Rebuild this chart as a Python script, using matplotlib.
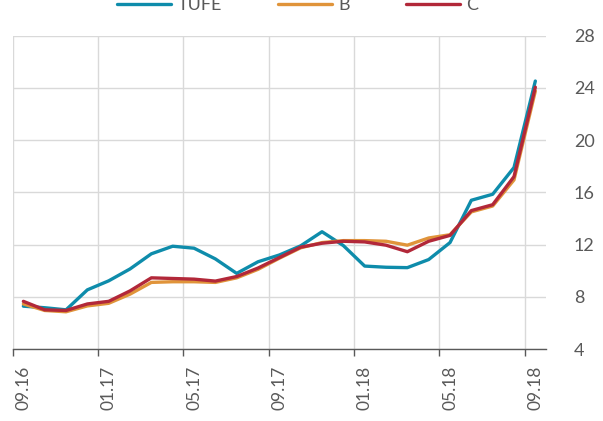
import matplotlib
matplotlib.use('Agg')
import matplotlib.pyplot as plt
import numpy as np

plt.rcParams['font.family'] = ['Lato', 'DejaVu Sans']

months = ['09.16', '10.16', '11.16', '12.16',
          '01.17', '02.17', '03.17', '04.17', '05.17', '06.17', '07.17', '08.17',
          '09.17', '10.17', '11.17', '12.17',
          '01.18', '02.18', '03.18', '04.18', '05.18', '06.18', '07.18', '08.18',
          '09.18']

tufe = [7.28, 7.16, 7.00, 8.53, 9.22, 10.13, 11.29, 11.87, 11.72, 10.90, 9.79, 10.68,
        11.20, 11.90, 12.98, 11.92, 10.35, 10.26, 10.23, 10.85, 12.15, 15.39, 15.85,
        17.90, 24.52]
b_core = [7.45, 6.95, 6.85, 7.30, 7.50, 8.20, 9.10, 9.15, 9.15, 9.10, 9.45, 10.10,
          10.95, 11.75, 12.15, 12.30, 12.30, 12.25, 11.95, 12.50, 12.75, 14.50, 14.95,
          16.95, 23.75]
c_core = [7.65, 7.00, 6.95, 7.45, 7.65, 8.45, 9.45, 9.40, 9.35, 9.20, 9.55, 10.20,
          11.00, 11.80, 12.10, 12.25, 12.20, 11.95, 11.45, 12.25, 12.70, 14.60, 15.05,
          17.20, 24.05]

grey = '#595959'
x = np.arange(len(months))

fig = plt.figure(figsize=(6.03, 4.21), dpi=100)
ax = fig.add_axes([12.7 / 603, 72 / 421, (546 - 12.7) / 603, (349 - 35.6) / 421])

ax.plot(x, tufe, color='#0E8CAB', lw=2.4, label='TUFE', solid_capstyle='round')
ax.plot(x, b_core, color='#E0943A', lw=2.4, label='B', solid_capstyle='round')
ax.plot(x, c_core, color='#B22839', lw=2.4, label='C', solid_capstyle='round')

ax.set_xlim(-0.5, len(months) - 0.5)
ax.set_ylim(4, 28)
ax.set_yticks(range(4, 29, 4))

major = x[::4]
ax.set_xticks(major)
ax.set_xticklabels([months[i] for i in major], rotation=90)
ax.set_xticks(major - 0.5, minor=True)
ax.tick_params(axis='x', which='major', length=0, pad=12, labelsize=12.5, labelcolor=grey)
ax.tick_params(axis='x', which='minor', length=5, width=1, color=grey, direction='out')

ax.yaxis.tick_right()
ax.tick_params(axis='y', length=0, pad=20, labelsize=13, labelcolor=grey)

ax.grid(True, axis='y', color='#D9D9D9', lw=1)
ax.grid(True, axis='x', which='minor', color='#D9D9D9', lw=1)
ax.set_axisbelow(True)

for s in ['top', 'right', 'left']:
    ax.spines[s].set_visible(False)
ax.spines['bottom'].set_color(grey)
ax.spines['bottom'].set_linewidth(1)

leg = fig.legend(loc='center', bbox_to_anchor=(0.494, 1 - 5.5 / 421), ncol=3,
                 frameon=False, handlelength=3.0, handletextpad=0.35,
                 columnspacing=3.1, borderpad=0, fontsize=13)
for t in leg.get_texts():
    t.set_color(grey)

fig.savefig('out.png', dpi=100)
